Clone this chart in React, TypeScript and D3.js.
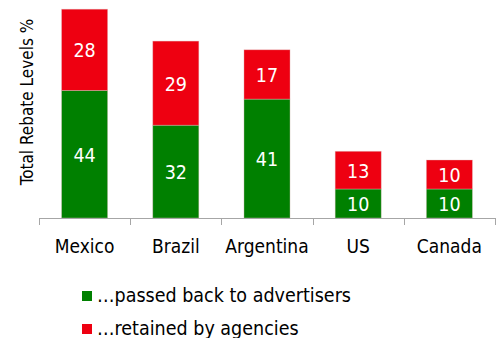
import React from "react";
import * as d3 from "d3";

const categories = ["Mexico", "Brazil", "Argentina", "US", "Canada"];
const passedBack = [44, 32, 41, 10, 10];
const retained = [28, 29, 17, 13, 10];
const seriesNames = ["…passed back to advertisers", "…retained by agencies"];
const seriesColors = ["#008000", "#EE0011"];
const yLabel = "Total Rebate Levels %";

const FONT = "'DejaVu Sans Condensed', 'DejaVu Sans', sans-serif";

export default function App() {
  const W = 501, H = 338;
  const x0 = 39, x1 = 495, baseY = 218;
  const x = d3.scaleBand<string>().domain(categories).range([x0, x1]).paddingInner(0).paddingOuter(0);
  const y = d3.scaleLinear().domain([0, 75]).range([baseY, 0.5]);
  const barW = x.bandwidth() * 0.505;

  const rows = categories.map((c, i) => ({ c, a: passedBack[i], b: retained[i] }));
  const stack = d3.stack<any>().keys(["a", "b"])(rows as any);
  const ticks = [...categories.map((c) => x(c)!), x1];

  return (
    <svg width={W} height={H} style={{ position: "absolute", left: 0, top: 0, background: "#fff" }} fontFamily={FONT}>
      {stack.map((layer, li) =>
        layer.map((d, i) => {
          const cx = x(categories[i])! + x.bandwidth() / 2;
          const yTop = y(d[1]);
          const yBot = y(d[0]);
          const val = li === 0 ? passedBack[i] : retained[i];
          return (
            <g key={`${li}-${i}`}>
              <rect x={cx - barW / 2} y={yTop} width={barW} height={yBot - yTop} fill={seriesColors[li]} stroke="#e0c0c0" strokeOpacity={0.5} strokeWidth={0.75} />
              <text x={cx} y={(yTop + yBot) / 2 + 1} textAnchor="middle" dominantBaseline="central" fill="#fff" fontSize={19.5}>
                {val}
              </text>
            </g>
          );
        })
      )}
      <line x1={x0} x2={x1} y1={baseY + 0.5} y2={baseY + 0.5} stroke="#a6a6a6" strokeWidth={1} />
      {ticks.map((t, i) => (
        <line key={i} x1={Math.round(t) + 0.5} x2={Math.round(t) + 0.5} y1={baseY} y2={baseY + 7} stroke="#a6a6a6" strokeWidth={1} />
      ))}
      {categories.map((c) => (
        <text key={c} x={x(c)! + x.bandwidth() / 2} y={253} textAnchor="middle" fontSize={19} fill="#000">
          {c}
        </text>
      ))}
      <text transform={`translate(33,102) rotate(-90)`} textAnchor="middle" fontSize={17} fill="#000">
        {yLabel}
      </text>
      {seriesNames.map((s, i) => (
        <g key={s} transform={`translate(0,${i * 33})`}>
          <rect x={82} y={291} width={10} height={10} fill={seriesColors[i]} />
          <text x={97} y={302} fontSize={19.5} fill="#000">{s}</text>
        </g>
      ))}
    </svg>
  );
}
